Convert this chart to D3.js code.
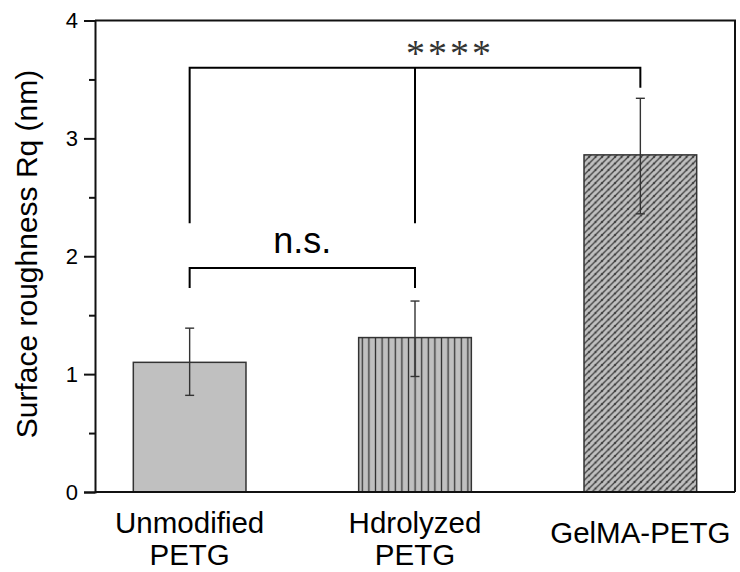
<!DOCTYPE html>
<html>
<head>
<meta charset="utf-8">
<script src="https://cdn.jsdelivr.net/npm/d3@7"></script>
<style>
  body { margin: 0; background: #fff; }
  text { font-family: Arial, "Liberation Sans", sans-serif; fill: #000; }
</style>
</head>
<body>
<div id="chart"></div>
<script>
// chart data
var groups = ["Unmodified PETG", "Hdrolyzed PETG", "GelMA-PETG"];
var groupLines = [["Unmodified", "PETG"], ["Hdrolyzed", "PETG"], ["GelMA-PETG"]];
var means = [1.10, 1.31, 2.86];
var errLow = [0.82, 0.98, 2.36];
var errHigh = [1.39, 1.62, 3.34];
var fills = ["plain", "vlines", "diag"];
var yTicks = [0, 1, 2, 3, 4];
var yMinorTicks = [0.5, 1.5, 2.5, 3.5];

// significance brackets (heights in data units)
var nsBracket = {from: 0, to: 1, y: 1.90, yLeft: 1.73, yRight: 1.73, label: "n.s."};
var starBracket = {from: 0, to: 2, y: 3.60, yLeft: 2.28, yRight: 3.43, mid: 1, yMid: 2.28, label: "****"};

// svg properties
var svgWidth = 740;
var svgHeight = 572;

var margin = {top: 20.5, right: 5, bottom: 80, left: 95};
var width = svgWidth - margin.left - margin.right;
var height = svgHeight - margin.top - margin.bottom;

var svg = d3.select("#chart")
    .append("svg")
    .attr("width", svgWidth)
    .attr("height", svgHeight);

var defs = svg.append("defs");

// vertical line hatch
var vp = defs.append("pattern")
    .attr("id", "vlines")
    .attr("patternUnits", "userSpaceOnUse")
    .attr("width", 6.6)
    .attr("height", 10);
vp.append("rect").attr("width", 6.6).attr("height", 10).attr("fill", "#c0c0c0");
vp.append("line").attr("x1", 3.3).attr("x2", 3.3).attr("y1", 0).attr("y2", 10)
    .attr("stroke", "#333").attr("stroke-width", 1.3);

// diagonal hatch
var dp = defs.append("pattern")
    .attr("id", "diag")
    .attr("patternUnits", "userSpaceOnUse")
    .attr("width", 6.5)
    .attr("height", 6.5);
dp.append("rect").attr("width", 6.5).attr("height", 6.5).attr("fill", "#c0c0c0");
dp.append("path").attr("d", "M-1,1.5 L1.5,-1 M0,6.5 L6.5,0 M5,7.5 L7.5,5")
    .attr("stroke", "#3a3a3a").attr("stroke-width", 1.3);

var chartGroup = svg.append("g")
    .attr("transform", `translate(${margin.left},${margin.top})`);

// scales
var xBandScale = d3.scaleBand()
    .domain(groups)
    .range([0, width])
    .paddingInner(0.5)
    .paddingOuter(0.17);

var yLinearScale = d3.scaleLinear()
    .domain([0, 4])
    .range([height, 0]);

// bars
chartGroup.selectAll(".bar")
    .data(groups)
    .enter()
    .append("rect")
    .attr("class", "bar")
    .attr("x", d => xBandScale(d))
    .attr("width", xBandScale.bandwidth())
    .attr("y", (d, i) => yLinearScale(means[i]))
    .attr("height", (d, i) => height - yLinearScale(means[i]))
    .attr("fill", (d, i) => fills[i] === "plain" ? "#c0c0c0" : `url(#${fills[i]})`)
    .attr("stroke", "#333")
    .attr("stroke-width", 1.5);

// error bars
var errGroup = chartGroup.selectAll(".err")
    .data(groups)
    .enter()
    .append("g")
    .attr("class", "err")
    .attr("stroke", "#333")
    .attr("stroke-width", 1.4);

errGroup.append("line")
    .attr("x1", d => xBandScale(d) + xBandScale.bandwidth() / 2)
    .attr("x2", d => xBandScale(d) + xBandScale.bandwidth() / 2)
    .attr("y1", (d, i) => yLinearScale(errLow[i]))
    .attr("y2", (d, i) => yLinearScale(errHigh[i]));

errGroup.append("line")
    .attr("x1", d => xBandScale(d) + xBandScale.bandwidth() / 2 - 4.5)
    .attr("x2", d => xBandScale(d) + xBandScale.bandwidth() / 2 + 4.5)
    .attr("y1", (d, i) => yLinearScale(errLow[i]))
    .attr("y2", (d, i) => yLinearScale(errLow[i]));

errGroup.append("line")
    .attr("x1", d => xBandScale(d) + xBandScale.bandwidth() / 2 - 4.5)
    .attr("x2", d => xBandScale(d) + xBandScale.bandwidth() / 2 + 4.5)
    .attr("y1", (d, i) => yLinearScale(errHigh[i]))
    .attr("y2", (d, i) => yLinearScale(errHigh[i]));

// frame top + right
chartGroup.append("path")
    .attr("d", `M0,0 H${width} V${height}`)
    .attr("fill", "none")
    .attr("stroke", "#111")
    .attr("stroke-width", 2);

// minor ticks
var minorAxis = d3.axisLeft(yLinearScale)
    .tickValues(yMinorTicks)
    .tickSize(6)
    .tickFormat("");
chartGroup.append("g")
    .call(minorAxis)
    .call(g => g.select(".domain").remove())
    .selectAll("line").attr("stroke", "#111").attr("stroke-width", 2);

// y axis
var leftAxis = d3.axisLeft(yLinearScale)
    .tickValues(yTicks)
    .tickSize(11)
    .tickPadding(6)
    .tickFormat(d3.format("d"));
var yAxis = chartGroup.append("g").call(leftAxis);
yAxis.select(".domain").attr("stroke", "#111").attr("stroke-width", 2);
yAxis.selectAll("line").attr("stroke", "#111").attr("stroke-width", 2);
yAxis.selectAll("text")
    .attr("font-size", "22px")
    .attr("font-family", "Arial, 'Liberation Sans', sans-serif")
    .attr("fill", "#000");

// x axis line
chartGroup.append("line")
    .attr("x1", 0)
    .attr("x2", width)
    .attr("y1", height)
    .attr("y2", height)
    .attr("stroke", "#111")
    .attr("stroke-width", 2);

// x labels
var xLabels = chartGroup.selectAll(".xlab")
    .data(groups)
    .enter()
    .append("text")
    .attr("class", "xlab")
    .attr("text-anchor", "middle")
    .attr("font-size", "29.5px")
    .attr("x", d => xBandScale(d) + xBandScale.bandwidth() / 2);

xLabels.each(function(d, i) {
    var lines = groupLines[i];
    var t = d3.select(this);
    if (lines.length === 1) {
        t.append("tspan").attr("x", t.attr("x")).attr("y", height + 51).text(lines[0]);
    } else {
        lines.forEach(function(l, j) {
            t.append("tspan").attr("x", t.attr("x")).attr("y", height + 41 + j * 32).text(l);
        });
    }
});

// y label
svg.append("text")
    .attr("transform", `translate(37,254) rotate(-90)`)
    .attr("text-anchor", "middle")
    .attr("font-size", "30px")
    .text("Surface roughness Rq (nm)");

// significance brackets
function cx(i) {
    return xBandScale(groups[i]) + xBandScale.bandwidth() / 2;
}

function drawBracket(b) {
    var x0 = cx(b.from), x1 = cx(b.to);
    var path = `M${x0},${yLinearScale(b.yLeft)} V${yLinearScale(b.y)} H${x1} V${yLinearScale(b.yRight)}`;
    if (b.mid !== undefined) {
        path += ` M${cx(b.mid)},${yLinearScale(b.y)} V${yLinearScale(b.yMid)}`;
    }
    chartGroup.append("path")
        .attr("d", path)
        .attr("fill", "none")
        .attr("stroke", "#000")
        .attr("stroke-width", 2);
}

drawBracket(nsBracket);
drawBracket(starBracket);

chartGroup.append("text")
    .attr("x", (cx(nsBracket.from) + cx(nsBracket.to)) / 2)
    .attr("y", yLinearScale(nsBracket.y) - 15)
    .attr("text-anchor", "middle")
    .attr("font-size", "36px")
    .text(nsBracket.label);

chartGroup.append("text")
    .attr("x", 355)
    .attr("y", yLinearScale(starBracket.y) - 2)
    .attr("text-anchor", "middle")
    .attr("font-size", "38px")
    .attr("letter-spacing", "3px")
    .style("font-family", "'Liberation Serif', 'Times New Roman', serif")
    .style("fill", "#333")
    .text(starBracket.label);
</script>
</body>
</html>
